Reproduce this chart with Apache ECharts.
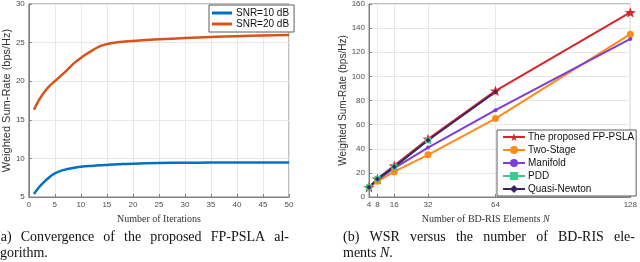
<!DOCTYPE html>
<html>
<head>
<meta charset="utf-8">
<script src="https://cdn.jsdelivr.net/npm/echarts@6/dist/echarts.min.js"></script>
<style>
  html, body { margin: 0; padding: 0; background: #fff; }
  #main { width: 640px; height: 262px; }
</style>
</head>
<body>
<div id="main"></div>
<script>
// (a) convergence of FP-PSLA
var iterations = [1, 2, 3, 4, 5, 6, 7, 8, 9, 10, 11, 12, 13, 14, 15, 16, 17, 18, 20, 25, 30, 35, 40, 45, 50];
var snr10 = [5.4, 6.3, 7.0, 7.6, 8.05, 8.35, 8.55, 8.7, 8.82, 8.92, 8.98, 9.03, 9.08, 9.12, 9.16, 9.2, 9.23, 9.26, 9.32, 9.4, 9.44, 9.46, 9.47, 9.48, 9.48];
var snr20 = [16.3, 17.6, 18.6, 19.4, 20.0, 20.6, 21.2, 21.9, 22.5, 23.0, 23.5, 23.9, 24.3, 24.6, 24.8, 24.95, 25.05, 25.12, 25.22, 25.42, 25.6, 25.73, 25.83, 25.92, 26.0];

// (b) WSR versus number of BD-RIS elements
var elements = [4, 8, 16, 32, 64, 128];
var proposed = [8, 15, 26, 48, 88, 153];
var twoStage = [8, 13, 21, 35, 65, 135];
var manifold = [8, 14, 24, 41, 72, 131];
var pdd = [8, 15, 25, 47];
var quasiNewton = [8, 15, 25, 47, 87];

var captionA = ['(a) Convergence of the proposed FP-PSLA al-', 'gorithm.'];
var captionB = ['(b) WSR versus the number of BD-RIS ele-', 'ments {i|N}.'];

function pairs(xs, ys) {
  return ys.map(function (y, i) { return [xs[i], y]; });
}

var star = 'path://M0,-10 L2.35,-3.24 9.51,-3.09 3.8,1.24 5.88,8.09 0,4 -5.88,8.09 -3.8,1.24 -9.51,-3.09 -2.35,-3.24Z';
var tickFont = { color: '#4d4d4d', fontSize: 8, fontFamily: 'Liberation Sans', margin: 4 };
var axisLine = { lineStyle: { color: '#808080', width: 1 } };
var split = { show: true, lineStyle: { color: '#e8e8e8', width: 1 } };
var serif = 'Liberation Serif';

// justified caption line, words spread between x0 and x1
var ctx = document.createElement('canvas').getContext('2d');
ctx.font = '14px "Liberation Serif"';
function justified(text, x0, x1, y) {
  var words = text.split(' ');
  var widths = words.map(function (w) { return ctx.measureText(w).width; });
  var total = widths.reduce(function (a, b) { return a + b; }, 0);
  var gap = (x1 - x0 - total) / (words.length - 1);
  var x = x0, out = [];
  words.forEach(function (w, i) {
    out.push({ type: 'text', left: x, top: y,
      style: { text: w, font: '14px "Liberation Serif"', fill: '#111' } });
    x += widths[i] + gap;
  });
  return out;
}

var graphics = []
  .concat(justified(captionA[0], -4, 289, 230))
  .concat(justified(captionB[0], 343, 635, 230));
graphics.push({ type: 'text', left: 0, top: 246, style: { text: captionA[1], font: '14px "Liberation Serif"', fill: '#111' } });
graphics.push({ type: 'text', left: 343, top: 246, style: {
  text: captionB[1], font: '14px "Liberation Serif"', fill: '#111',
  rich: { i: { fontStyle: 'italic', fontFamily: serif, fontSize: 14, fill: '#111' } } } });

var chart = echarts.init(document.getElementById('main'));
var option = {
  animation: false,
  backgroundColor: '#fff',
  grid: [
    { left: 22, right: 351, top: 3, bottom: 65, show: true, borderColor: '#808080', borderWidth: 1, backgroundColor: '#fff' },
    { left: 369, right: 5, top: 3, bottom: 65, show: true, borderColor: '#808080', borderWidth: 1, backgroundColor: '#fff' }
  ],
  xAxis: [
    {
      gridIndex: 0, type: 'value', min: 0, max: 50, interval: 5,
      name: 'Number of Iterations', nameLocation: 'middle', nameGap: 11,
      nameTextStyle: { fontFamily: serif, fontSize: 10, color: '#333' },
      axisLine: axisLine, axisTick: { inside: true, length: 3, lineStyle: { color: '#808080' } },
      axisLabel: tickFont, splitLine: split
    },
    {
      gridIndex: 1, type: 'value', min: 4, max: 128,
      name: 'Number of BD-RIS Elements {i|N}', nameLocation: 'middle', nameGap: 11,
      nameTextStyle: { fontFamily: serif, fontSize: 10, color: '#333', padding: [0, 28, 0, 0],
        rich: { i: { fontFamily: serif, fontSize: 10, fontStyle: 'italic', color: '#333' } } },
      axisLine: axisLine,
      axisTick: { inside: true, length: 3, lineStyle: { color: '#808080' }, customValues: elements },
      axisLabel: Object.assign({ customValues: elements }, tickFont),
      splitLine: split
    }
  ],
  yAxis: [
    {
      gridIndex: 0, type: 'value', min: 5, max: 30, interval: 5,
      name: 'Weighted Sum-Rate (bps/Hz)', nameLocation: 'middle', nameGap: 12,
      nameTextStyle: { fontFamily: 'Liberation Sans', fontSize: 11, color: '#333' },
      axisLine: axisLine, axisTick: { inside: true, length: 3, lineStyle: { color: '#808080' } },
      axisLabel: tickFont, splitLine: split
    },
    {
      gridIndex: 1, type: 'value', min: 0, max: 160, interval: 20,
      name: 'Weighted Sum-Rate (bps/Hz)', nameLocation: 'middle', nameGap: 13,
      nameTextStyle: { fontFamily: 'Liberation Sans', fontSize: 10, color: '#333' },
      axisLine: axisLine, axisTick: { inside: true, length: 3, lineStyle: { color: '#808080' } },
      axisLabel: tickFont, splitLine: split
    }
  ],
  legend: [
    {
      data: ['SNR=10 dB', 'SNR=20 dB'], orient: 'vertical', left: 209, top: 5,
      icon: 'rect', padding: [3, 5, 3, 3], itemGap: 1, itemWidth: 20, itemHeight: 3,
      backgroundColor: '#fff', borderColor: '#333', borderWidth: 0.8, borderRadius: 0,
      textStyle: { fontFamily: 'Liberation Sans', fontSize: 10, color: '#111', lineHeight: 10, height: 10, padding: [0, 0, 0, -1] }
    },
    {
      data: ['The proposed FP-PSLA', 'Two-Stage', 'Manifold', 'PDD', 'Quasi-Newton'],
      orient: 'vertical', left: 497, top: 130,
      padding: [2, 2, 2, 5], itemGap: 3, itemWidth: 22, itemHeight: 10,
      backgroundColor: '#fff', borderColor: '#333', borderWidth: 0.8, borderRadius: 0,
      textStyle: { fontFamily: 'Liberation Sans', fontSize: 10, color: '#111', lineHeight: 10, padding: [0, 0, 0, -2] }
    }
  ],
  graphic: graphics,
  series: [
    { name: 'SNR=10 dB', type: 'line', xAxisIndex: 0, yAxisIndex: 0, data: pairs(iterations, snr10),
      showSymbol: false, symbol: 'none', smooth: 0.3, color: '#0072BD', lineStyle: { width: 2.5, color: '#0072BD' } },
    { name: 'SNR=20 dB', type: 'line', xAxisIndex: 0, yAxisIndex: 0, data: pairs(iterations, snr20),
      showSymbol: false, symbol: 'none', smooth: 0.3, color: '#D95319', lineStyle: { width: 2.5, color: '#D95319' } },

    { name: 'The proposed FP-PSLA', type: 'line', xAxisIndex: 1, yAxisIndex: 1, data: pairs(elements, proposed),
      symbol: star, symbolSize: 11, symbolKeepAspect: true, color: '#D7262B',
      lineStyle: { width: 2, color: '#D7262B' }, itemStyle: { color: '#D7262B' } },
    { name: 'Two-Stage', type: 'line', xAxisIndex: 1, yAxisIndex: 1, data: pairs(elements, twoStage),
      symbol: 'circle', symbolSize: 7, color: '#FF8C1A',
      lineStyle: { width: 2, color: '#FF8C1A' }, itemStyle: { color: '#FF8C1A' } },
    { name: 'Manifold', type: 'line', xAxisIndex: 1, yAxisIndex: 1, data: pairs(elements, manifold),
      symbol: 'circle', symbolSize: 4, color: '#7B3FD9',
      lineStyle: { width: 2, color: '#7B3FD9' }, itemStyle: { color: '#7B3FD9' } },
    { name: 'PDD', type: 'line', xAxisIndex: 1, yAxisIndex: 1, data: pairs(elements, pdd),
      symbol: 'rect', symbolSize: 6, color: '#3CC98D',
      lineStyle: { width: 2, color: '#3CC98D' }, itemStyle: { color: '#3CC98D' } },
    { name: 'Quasi-Newton', type: 'line', xAxisIndex: 1, yAxisIndex: 1, data: pairs(elements, quasiNewton),
      symbol: 'diamond', symbolSize: 5, color: '#3B2466',
      lineStyle: { width: 2, color: '#3B2466' }, itemStyle: { color: '#3B2466' } }
  ]
};
chart.setOption(option);
</script>
</body>
</html>
